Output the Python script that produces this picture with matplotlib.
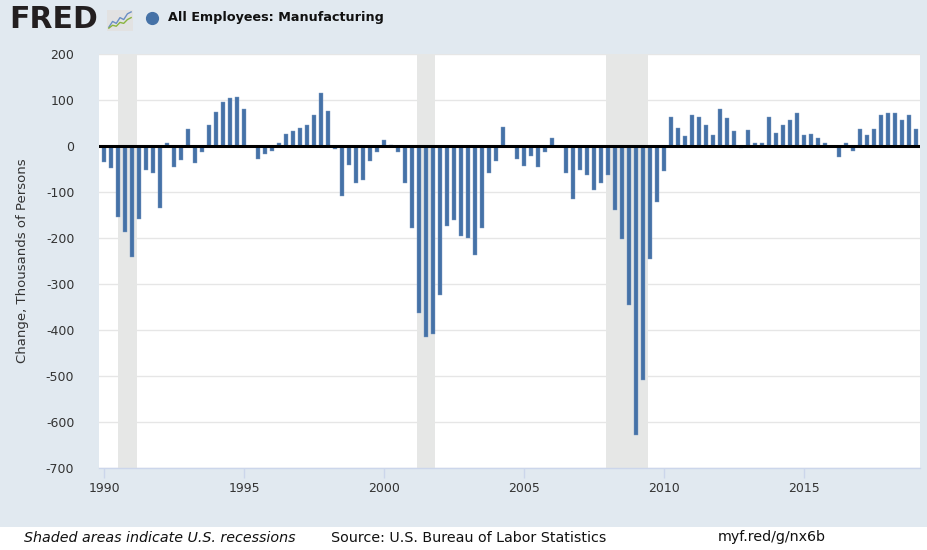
import matplotlib
matplotlib.use("Agg")
import matplotlib.pyplot as plt
from matplotlib.patches import Rectangle
import numpy as np
import pandas as pd

# quarterly change in manufacturing employment, thousands of persons
first_quarter = "1990Q1"
changes = [
    -35, -49, -154, -188,   # 1990
    -241, -158, -53, -59,   # 1991
    -136, 7, -46, -30,      # 1992
    36, -38, -13, 46,       # 1993
    73, 96, 104, 106,       # 1994
    80, -1, -28, -17,       # 1995
    -10, 6, 25, 32,         # 1996
    39, 46, 67, 116,        # 1997
    77, -7, -109, -41,      # 1998
    -80, -74, -33, -14,     # 1999
    12, 1, -13, -81,        # 2000
    -178, -364, -415, -409, # 2001
    -324, -175, -162, -196, # 2002
    -200, -238, -179, -59,  # 2003
    -33, 42, 0, -28,        # 2004
    -43, -22, -46, -13,     # 2005
    18, 0, -59, -115,       # 2006
    -53, -64, -95, -81,     # 2007
    -64, -139, -203, -346,  # 2008
    -629, -510, -246, -122, # 2009
    -54, 63, 39, 22,        # 2010
    68, 63, 45, 24,         # 2011
    81, 60, 32, -4,         # 2012
    35, 7, 7, 63,           # 2013
    29, 46, 57, 71,         # 2014
    24, 27, 18, 7,          # 2015
    -1, -23, 6, -10,        # 2016
    36, 24, 36, 68,         # 2017
    71, 71, 57, 68,         # 2018
    36,                     # 2019
]

# NBER recessions (start, end)
recessions = [("1990-07-01", "1991-03-01"),
              ("2001-03-01", "2001-11-01"),
              ("2007-12-01", "2009-06-01")]

year_ticks = [1990, 1995, 2000, 2005, 2010, 2015]
y_ticks = [200, 100, 0, -100, -200, -300, -400, -500, -600, -700]

title = "All Employees: Manufacturing"
ylabel = "Change, Thousands of Persons"
note_left = "Shaded areas indicate U.S. recessions"
note_mid = "Source: U.S. Bureau of Labor Statistics"
note_right = "myf.red/g/nx6b"


def decimal_year(ts):
    ts = pd.Timestamp(ts)
    start = pd.Timestamp(year=ts.year, month=1, day=1)
    end = pd.Timestamp(year=ts.year + 1, month=1, day=1)
    return ts.year + (ts - start) / (end - start)


quarters = pd.period_range(first_quarter, periods=len(changes), freq="Q")
x = np.array([decimal_year(q.start_time) for q in quarters])

bg = "#e1e9f0"
blue = "#4572a7"
txt = "#333333"

fig = plt.figure(figsize=(9.28, 5.5), dpi=100, facecolor=bg)
ax = fig.add_axes([99.3 / 928, 1 - 467.7 / 550, 821 / 928, 413.7 / 550])
ax.set_facecolor("white")

for a, b in recessions:
    ax.axvspan(decimal_year(a), decimal_year(b), color="#e6e7e6", lw=0, zorder=1)

ax.bar(x, changes, width=0.16, color=blue, edgecolor="#7f9dc4", linewidth=0.3, zorder=2)
ax.axhline(0, color="black", lw=2.2, zorder=3)

ax.set_xlim(1989.83, 2019.15)
ax.set_ylim(-700, 200)
ax.set_yticks(y_ticks)
ax.set_yticklabels([str(v) for v in y_ticks])
ax.set_xticks(year_ticks)
ax.set_xticklabels([str(v) for v in year_ticks])
ax.grid(axis="y", color="#e6e6e6", lw=1, zorder=0)
ax.set_axisbelow(True)

for side in ["top", "right", "left"]:
    ax.spines[side].set_visible(False)
ax.spines["bottom"].set_color("#ccd6eb")
ax.spines["bottom"].set_linewidth(1)
ax.tick_params(axis="y", length=0, pad=18, labelsize=9, labelcolor=txt)
ax.tick_params(axis="x", length=7.5, width=1, color="#ccd6eb", pad=3,
               labelsize=9, labelcolor=txt)
ax.set_ylabel(ylabel, fontsize=9.5, color=txt, labelpad=12)

# header: FRED logo and series legend
fig.text(9 / 928, 1 - 19.5 / 550, "FRED", fontsize=21.5, fontweight="heavy",
         color="#231f20", va="center", ha="left")
icon = fig.add_axes([107 / 928, 1 - 31 / 550, 26 / 928, 21 / 550])
icon.set_facecolor("#e2e2e2")
icon_blue = [1, 4, 3, 6, 5, 8, 9]
icon_green = [0.5, 2, 1.5, 3.5, 3, 5, 6]
icon.plot(range(len(icon_blue)), icon_blue, color="#6b8fc4", lw=1)
icon.plot(range(len(icon_green)), icon_green, color="#8ab43f", lw=1)
icon.set_xlim(-0.5, 6.5)
icon.set_ylim(-1, 10)
icon.set_xticks([])
icon.set_yticks([])
for s in icon.spines.values():
    s.set_visible(False)

fig.lines.append(plt.Line2D([152 / 928], [1 - 17.5 / 550], marker="o", markersize=8.5,
                            color=blue, transform=fig.transFigure))
fig.text(168 / 928, 1 - 18 / 550, title, fontsize=9.2, fontweight="bold",
         color="#111111", va="center", ha="left")

# footer
fig.patches.append(Rectangle((0, 0), 1, 23 / 550, transform=fig.transFigure,
                             facecolor="white", edgecolor="none"))
fy = 1 - 537.5 / 550
fig.text(24 / 928, fy, note_left, fontsize=10.3, style="italic", color="#111111", va="center")
fig.text(331 / 928, fy, note_mid, fontsize=10.3, color="#111111", va="center")
fig.text(718 / 928, fy, note_right, fontsize=10.3, color="#111111", va="center")

fig.savefig("out.png", dpi=100, facecolor=bg)
